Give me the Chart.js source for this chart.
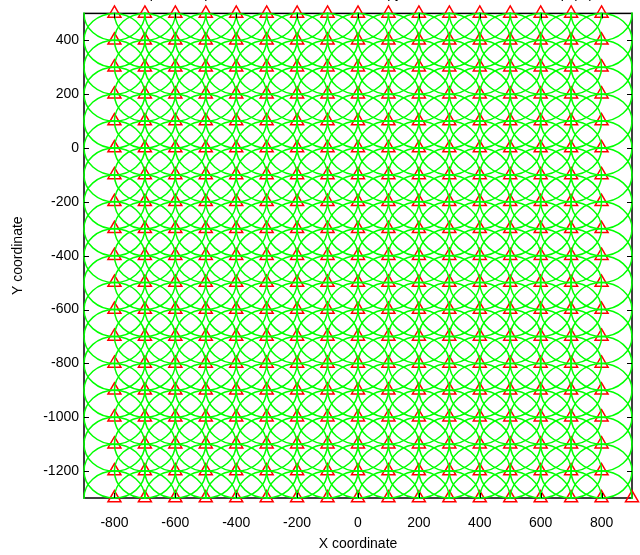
<!DOCTYPE html>
<html>
<head>
<meta charset="utf-8">
<script src="https://cdn.jsdelivr.net/npm/chart.js@4/dist/chart.umd.min.js"></script>
<style>
    body { margin: 0; background: #fff; }
    #wrap { width: 640px; height: 555px; }
</style>
</head>
<body>
<div id="wrap"><canvas id="nodeChart"></canvas></div>
<script>
const nodeX = [-800, -700, -600, -500, -400, -300, -200, -100, 0, 100, 200, 300, 400, 500, 600, 700, 800];
const nodeY = [500, 400, 300, 200, 100, 0, -100, -200, -300, -400, -500, -600, -700, -800, -900, -1000, -1100, -1200, -1300];
const extraNodes = [{ x: 900, y: -1300 }];
const sensingRadius = 100;
const xTicks = [-800, -600, -400, -200, 0, 200, 400, 600, 800];
const yTicks = [400, 200, 0, -200, -400, -600, -800, -1000, -1200];
const titleText = "Sample area placement of nodes in a canopy area with sensor disk map (m)";

const fontFamily = "'Liberation Sans', Arial, sans-serif";

const gridNodes = [];
nodeY.forEach((y) => nodeX.forEach((x) => gridNodes.push({ x, y })));

// circles, box, inward ticks and the clipped title, all placed through the chart scales
const matlabAxes = {
    id: "matlabAxes",
    beforeDatasetsDraw(chart) {
        const { ctx, chartArea: a } = chart;
        ctx.save();
        ctx.strokeStyle = "#000";
        ctx.lineWidth = 1.5;
        ctx.strokeRect(a.left, a.top, a.right - a.left, a.bottom - a.top);
        ctx.restore();
    },
    afterDatasetsDraw(chart) {
        const { ctx, chartArea: a, scales } = chart;
        const xs = scales.x;
        const ys = scales.y;

        ctx.save();
        ctx.beginPath();
        ctx.rect(a.left - 1, a.top - 1, a.right - a.left + 2, a.bottom - a.top + 2);
        ctx.clip();
        ctx.strokeStyle = "#00ff00";
        ctx.lineWidth = 1.5;
        gridNodes.forEach((n) => {
            const cx = xs.getPixelForValue(n.x);
            const cy = ys.getPixelForValue(n.y);
            const rx = Math.abs(xs.getPixelForValue(n.x + sensingRadius) - cx);
            const ry = Math.abs(ys.getPixelForValue(n.y + sensingRadius) - cy);
            ctx.beginPath();
            ctx.ellipse(cx, cy, rx, ry, 0, 0, Math.PI * 2);
            ctx.stroke();
        });
        ctx.restore();

        ctx.save();
        ctx.strokeStyle = "#000";
        ctx.lineWidth = 1;
        const len = 5;
        ctx.beginPath();
        yTicks.forEach((v) => {
            const py = Math.round(ys.getPixelForValue(v)) + 0.5;
            ctx.moveTo(a.left, py);
            ctx.lineTo(a.left + len, py);
            ctx.moveTo(a.right, py);
            ctx.lineTo(a.right - len, py);
        });
        xTicks.forEach((v) => {
            const px = Math.round(xs.getPixelForValue(v)) + 0.5;
            ctx.moveTo(px, a.bottom);
            ctx.lineTo(px, a.bottom - len);
            ctx.moveTo(px, a.top);
            ctx.lineTo(px, a.top + len);
        });
        ctx.stroke();

        ctx.fillStyle = "#000";
        ctx.font = `14px ${fontFamily}`;
        ctx.textAlign = "left";
        ctx.textBaseline = "alphabetic";
        ctx.fillText(titleText, 121, -2);
        ctx.restore();
    },
};

const tickFont = { family: fontFamily, size: 14 };

new Chart(document.getElementById("nodeChart"), {
    type: "scatter",
    data: {
        datasets: [
            {
                label: "nodes",
                data: gridNodes.concat(extraNodes),
                pointStyle: "triangle",
                pointRadius: 7.5,
                pointHoverRadius: 7.5,
                borderColor: "#ff0000",
                backgroundColor: "rgba(0,0,0,0)",
                borderWidth: 1.5,
                clip: 10,
            },
        ],
    },
    options: {
        responsive: true,
        maintainAspectRatio: false,
        animation: false,
        events: [],
        layout: { autoPadding: false, padding: { top: 13, right: 8, left: 0, bottom: 0 } },
        plugins: { legend: { display: false }, tooltip: { enabled: false } },
        scales: {
            x: {
                type: "linear",
                min: -900,
                max: 900,
                grid: { display: false, drawTicks: false },
                border: { display: false },
                afterBuildTicks: (scale) => { scale.ticks = xTicks.map((value) => ({ value })); },
                afterFit: (scale) => { scale.height = 57; },
                ticks: { color: "#000", padding: 17, font: tickFont, callback: (v) => String(v) },
                title: {
                    display: true,
                    text: "X coordinate",
                    color: "#000",
                    padding: { top: 0, bottom: 2 },
                    font: tickFont,
                },
            },
            y: {
                type: "linear",
                min: -1300,
                max: 500,
                grid: { display: false, drawTicks: false },
                border: { display: false },
                afterBuildTicks: (scale) => { scale.ticks = yTicks.map((value) => ({ value })); },
                afterFit: (scale) => { scale.width = 84; },
                ticks: { color: "#000", padding: 5, font: tickFont, callback: (v) => String(v) },
                title: {
                    display: true,
                    text: "Y coordinate",
                    color: "#000",
                    padding: { top: 10, bottom: 0 },
                    font: tickFont,
                },
            },
        },
    },
    plugins: [matlabAxes],
});
</script>
</body>
</html>
